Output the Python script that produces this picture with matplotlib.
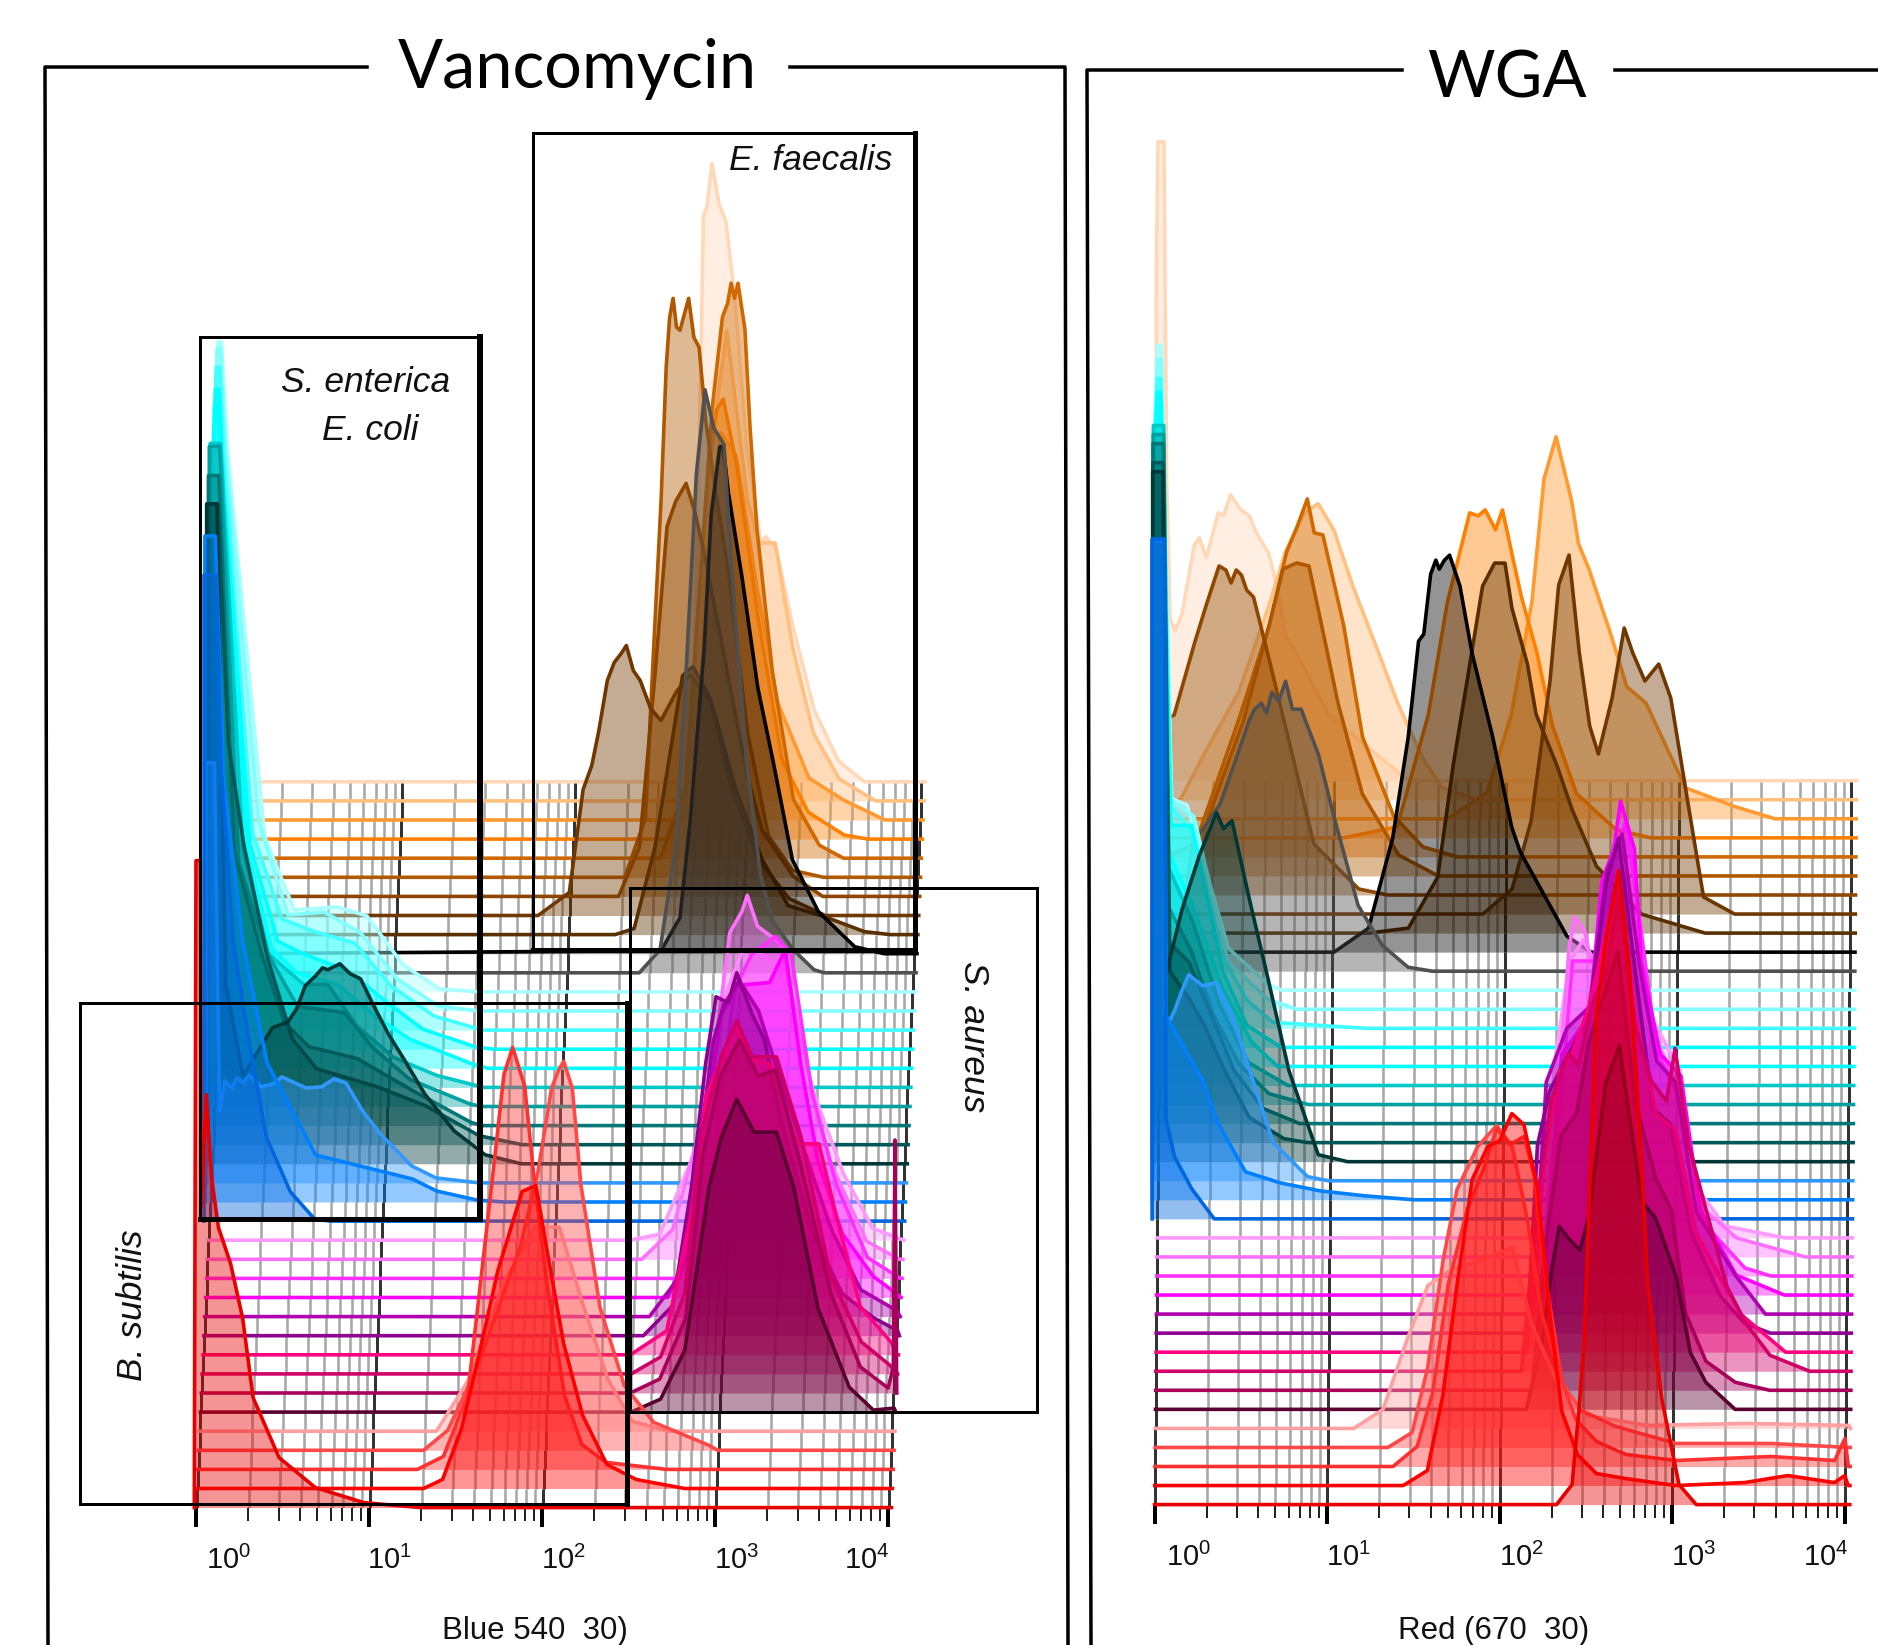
import matplotlib
matplotlib.use('Agg')
import matplotlib.pyplot as plt
from matplotlib.ticker import NullFormatter, FixedLocator
import numpy as np

plt.rcParams['font.family'] = ['Liberation Sans', 'DejaVu Sans']
plt.rcParams['mathtext.fontset'] = 'custom'
plt.rcParams['mathtext.rm'] = 'Liberation Sans'

# colour of each histogram, front (bottom) to back (top)
layer_colors = ['#e80000', '#ff0000', '#ff3030', '#ff4848', '#ffa0a0',
                '#5a0030', '#a8005a', '#d00068', '#ff0080', '#900090',
                '#b000b0', '#ff00ff', '#ff30ff', '#ff70ff', '#ff98ff',
                '#0066dd', '#0080ff', '#3098ff',
                '#003838', '#005858', '#007878', '#00a0a0', '#00c8c8',
                '#00ffff', '#00ffff', '#40ffff', '#80ffff', '#a8ffff',
                '#505050', '#000000',
                '#5a3000', '#703800', '#8f4700', '#b05800', '#d06800',
                '#ff8000', '#ff9a30', '#ffc080', '#ffd8b8']

# Vancomycin panel: (log10 intensity, height) per histogram
v00 = [(-0.01, 0), (0.0, 647), (0.025, 647), (0.03, 300), (0.06, 413), (0.09, 330), (0.13, 280), (0.2, 244), (0.27, 189), (0.33, 110), (0.48, 50), (0.69, 20), (0.97, 5), (1.3, 0)]
v01 = [(1.31, 0), (1.42, 9), (1.53, 60), (1.63, 133), (1.74, 218), (1.88, 297), (1.96, 303), (2.02, 242), (2.12, 145), (2.23, 73), (2.37, 24), (2.54, 9), (2.82, 0)]
v02 = [(1.27, 0), (1.42, 13), (1.56, 74), (1.70, 286), (1.77, 395), (1.82, 422), (1.89, 383), (1.94, 298), (2.01, 195), (2.12, 74), (2.22, 25), (2.36, 7), (2.71, 0)]
v03 = [(1.30, 0), (1.44, 20), (1.61, 83), (1.86, 204), (1.96, 277), (2.04, 362), (2.08, 380), (2.11, 389), (2.16, 362), (2.21, 265), (2.32, 143), (2.46, 65), (2.63, 28), (2.95, 5), (3.0, 0)]
v04 = [(1.37, 0), (1.55, 50), (1.76, 149), (1.94, 204), (2.08, 204), (2.22, 125), (2.36, 52), (2.50, 10), (2.71, 0)]
v05 = [(2.49, 0), (2.66, 13), (2.80, 62), (2.94, 225), (3.01, 274), (3.10, 313), (3.20, 280), (3.33, 280), (3.43, 225), (3.57, 104), (3.75, 25), (3.89, 2), (4.01, 4)]
v06 = [(2.48, 0), (2.65, 14), (2.80, 75), (2.90, 238), (3.00, 317), (3.11, 353), (3.22, 317), (3.32, 323), (3.46, 232), (3.64, 99), (3.81, 26), (3.97, 5), (4.00, 26), (4.01, 253), (4.02, 0)]
v07 = [(2.48, 0), (2.65, 17), (2.79, 81), (2.88, 238), (3.00, 317), (3.09, 353), (3.18, 317), (3.32, 317), (3.46, 238), (3.63, 99), (3.81, 32), (3.98, 8), (4.01, 0)]
v08 = [(2.47, 0), (2.68, 24), (2.82, 139), (2.91, 260), (3.00, 296), (3.08, 330), (3.17, 296), (3.28, 290), (3.42, 217), (3.45, 211), (3.56, 211), (3.66, 139), (3.80, 48), (3.98, 12), (4.01, 0)]
v09 = [(2.54, 0), (2.71, 30), (2.82, 151), (2.90, 272), (2.96, 339), (3.03, 333), (3.08, 363), (3.17, 321), (3.24, 296), (3.34, 212), (3.52, 102), (3.69, 42), (3.87, 18), (4.01, 5)]
v10 = [(2.57, 0), (2.74, 39), (2.85, 155), (2.94, 276), (3.00, 312), (3.09, 336), (3.20, 306), (3.30, 252), (3.44, 179), (3.62, 88), (3.79, 27), (4.00, 6)]
v11 = [(2.67, 0), (2.77, 39), (2.88, 161), (2.98, 282), (3.07, 312), (3.26, 315), (3.35, 348), (3.44, 233), (3.54, 136), (3.68, 64), (3.86, 21), (4.00, 3)]
v12 = [(2.73, 0), (2.91, 94), (2.98, 191), (3.05, 288), (3.15, 324), (3.29, 342), (3.38, 324), (3.50, 185), (3.64, 94), (3.82, 21), (4.01, 0)]
v13 = [(2.51, 0), (2.69, 30), (2.90, 164), (3.02, 327), (3.09, 348), (3.12, 364), (3.18, 333), (3.32, 315), (3.43, 218), (3.60, 97), (3.81, 18), (4.00, 0)]
v14 = [(2.44, 0), (2.61, 6), (2.82, 91), (2.97, 236), (3.09, 291), (3.21, 285), (3.35, 267), (3.49, 152), (3.67, 67), (3.84, 12), (4.02, 0)]
v15 = [(-0.03, 0), (-0.03, 646), (0.04, 646), (0.07, 450), (0.14, 278), (0.23, 180), (0.33, 84), (0.47, 29), (0.61, 2), (0.7, 0)]
v16 = [(-0.03, 0), (-0.03, 666), (0.03, 666), (0.08, 420), (0.19, 259), (0.33, 139), (0.61, 47), (0.89, 35), (1.17, 23), (1.31, 11), (1.54, 2), (1.7, 0)]
v17 = [(-0.03, 0), (-0.03, 420), (0.02, 420), (0.05, 72), (0.08, 102), (0.12, 95), (0.15, 105), (0.19, 100), (0.22, 108), (0.29, 96), (0.36, 99), (0.41, 106), (0.46, 102), (0.55, 95), (0.64, 96), (0.71, 104), (0.78, 100), (0.88, 71), (0.99, 47), (1.16, 17), (1.30, 5), (1.55, 0)]
v18 = [(-0.03, 0), (-0.03, 660), (0.03, 660), (0.08, 180), (0.18, 88), (0.35, 136), (0.44, 142), (0.49, 155), (0.54, 178), (0.60, 188), (0.64, 196), (0.67, 194), (0.74, 200), (0.80, 190), (0.86, 185), (0.93, 160), (1.02, 130), (1.12, 102), (1.23, 70), (1.40, 33), (1.58, 9), (1.79, 0)]
v19 = [(-0.03, 0), (-0.03, 640), (0.03, 640), (0.09, 403), (0.18, 300), (0.32, 185), (0.46, 106), (0.60, 76), (0.95, 58), (1.23, 39), (1.54, 9), (1.79, 0)]
v20 = [(-0.03, 0), (-0.03, 650), (0.03, 650), (0.12, 273), (0.28, 170), (0.41, 103), (0.55, 79), (0.83, 67), (1.14, 36), (1.49, 3), (1.56, 0)]
v21 = [(-0.03, 0), (-0.03, 660), (0.03, 660), (0.14, 245), (0.30, 155), (0.48, 100), (0.75, 94), (0.92, 58), (1.13, 27), (1.47, 3), (1.54, 0)]
v22 = [(-0.03, 0), (-0.03, 644), (0.03, 644), (0.16, 236), (0.31, 133), (0.51, 103), (0.65, 103), (0.82, 61), (1.03, 30), (1.28, 12), (1.55, 0)]
v23 = [(-0.03, 0), (-0.03, 540), (-0.01, 664), (0.01, 664), (0.04, 560), (0.18, 217), (0.32, 120), (0.46, 96), (0.70, 84), (0.91, 53), (1.12, 29), (1.47, 5), (1.57, 0)]
v24 = [(-0.03, 0), (-0.03, 540), (-0.01, 660), (0.01, 660), (0.04, 560), (0.19, 205), (0.35, 108), (0.49, 96), (0.76, 78), (0.98, 47), (1.19, 20), (1.50, 2), (1.6, 0)]
v25 = [(-0.03, 0), (-0.03, 540), (-0.01, 663), (0.01, 663), (0.04, 560), (0.20, 197), (0.37, 111), (0.55, 99), (0.79, 87), (1.00, 44), (1.25, 14), (1.53, 0)]
v26 = [(-0.03, 0), (-0.03, 540), (-0.01, 663), (0.01, 663), (0.04, 560), (0.23, 190), (0.40, 96), (0.61, 99), (0.82, 78), (1.03, 32), (1.27, 5), (1.5, 0)]
v27 = [(-0.03, 0), (-0.03, 530), (-0.01, 650), (0.01, 650), (0.04, 550), (0.26, 155), (0.43, 82), (0.68, 85), (0.85, 76), (1.06, 27), (1.27, 3), (1.5, 0)]
v28 = [(2.42, 0), (2.54, 23), (2.63, 126), (2.69, 299), (2.75, 499), (2.80, 583), (2.83, 560), (2.85, 545), (2.91, 528), (2.95, 413), (3.04, 212), (3.12, 98), (3.19, 52), (3.31, 23), (3.43, 3), (3.49, 0)]
v29 = [(2.54, 3), (2.65, 36), (2.71, 134), (2.79, 306), (2.83, 438), (2.88, 507), (2.90, 507), (2.93, 461), (3.01, 375), (3.10, 266), (3.19, 191), (3.30, 94), (3.45, 42), (3.66, 7), (3.83, 0)]
v30 = [(2.27, 0), (2.38, 6), (2.50, 87), (2.59, 184), (2.66, 259), (2.72, 268), (2.82, 236), (2.97, 144), (3.12, 75), (3.27, 29), (3.48, 18), (3.71, 3), (3.86, 0)]
v31 = [(1.82, 0), (2.0, 23), (2.08, 126), (2.13, 150), (2.17, 184), (2.22, 235), (2.26, 253), (2.30, 262), (2.33, 270), (2.37, 245), (2.41, 235), (2.47, 207), (2.53, 195), (2.62, 224), (2.70, 241), (2.82, 212), (2.94, 126), (3.09, 57), (3.27, 17), (3.48, 0)]
v32 = [(2.28, 0), (2.40, 49), (2.49, 221), (2.56, 370), (2.61, 395), (2.67, 413), (2.72, 385), (2.77, 347), (2.90, 232), (3.02, 123), (3.11, 66), (3.29, 20), (3.46, 0)]
v33 = [(2.31, 0), (2.43, 59), (2.47, 203), (2.52, 375), (2.55, 510), (2.57, 560), (2.59, 579), (2.61, 550), (2.63, 547), (2.65, 560), (2.68, 579), (2.71, 540), (2.74, 530), (2.78, 455), (2.84, 380), (2.90, 317), (3.02, 145), (3.14, 42), (3.28, 7), (3.46, 0)]
v34 = [(2.51, 0), (2.66, 70), (2.75, 300), (2.81, 449), (2.87, 541), (2.90, 555), (2.92, 575), (2.94, 560), (2.96, 575), (3.0, 529), (3.03, 430), (3.07, 328), (3.16, 185), (3.28, 59), (3.43, 13), (3.57, 0)]
v35 = [(2.54, 0), (2.65, 50), (2.77, 337), (2.83, 429), (2.87, 440), (2.95, 371), (3.07, 222), (3.21, 79), (3.36, 27), (3.57, 4), (3.71, 0)]
v36 = [(2.62, 0), (2.74, 146), (2.80, 318), (2.85, 387), (2.94, 364), (3.06, 232), (3.18, 117), (3.36, 42), (3.56, 20), (3.80, 0)]
v37 = [(2.64, 0), (2.73, 126), (2.79, 355), (2.88, 470), (3.0, 300), (3.07, 258), (3.16, 258), (3.26, 154), (3.38, 68), (3.53, 22), (3.74, 0)]
v38 = [(2.67, 0), (2.71, 279), (2.74, 566), (2.76, 575), (2.79, 618), (2.83, 578), (2.87, 560), (2.92, 485), (2.99, 336), (3.07, 239), (3.10, 245), (3.16, 233), (3.26, 153), (3.38, 72), (3.52, 21), (3.67, 0)]

# WGA panel
w00 = [(2.33, 0), (2.42, 20), (2.46, 95), (2.49, 165), (2.56, 489), (2.62, 570), (2.69, 634), (2.75, 543), (2.81, 381), (2.86, 219), (2.94, 106), (3.04, 20), (3.14, 0)]
w01 = [(1.44, 0), (1.58, 15), (1.67, 90), (1.75, 198), (1.84, 306), (1.93, 339), (2.0, 345), (2.07, 372), (2.14, 361), (2.22, 296), (2.29, 172), (2.36, 74), (2.45, 31), (2.56, 12), (2.73, 7), (3.02, 0), (3.42, 3), (3.67, 10), (3.94, 3), (4.0, 10), (4.02, 0)]
w02 = [(1.38, 0), (1.52, 20), (1.61, 74), (1.70, 182), (1.81, 257), (1.91, 300), (1.98, 338), (2.06, 322), (2.14, 330), (2.2, 290), (2.27, 182), (2.36, 85), (2.44, 47), (2.56, 25), (2.73, 12), (3.02, 6), (3.57, 10), (3.94, 6), (4.0, 28), (4.02, 0)]
w03 = [(1.35, 0), (1.49, 15), (1.58, 80), (1.67, 188), (1.75, 258), (1.87, 301), (1.98, 322), (2.07, 301), (2.16, 226), (2.24, 134), (2.36, 64), (2.47, 37), (2.67, 21), (3.02, 4), (3.57, 4), (4.02, 0)]
w04 = [(1.15, 0), (1.32, 19), (1.46, 89), (1.58, 143), (1.72, 159), (1.92, 170), (2.07, 181), (2.18, 105), (2.33, 46), (2.5, 13), (2.85, 3), (3.42, 5), (4.02, 3)]
w05 = [(2.15, 0), (2.24, 67), (2.30, 143), (2.34, 183), (2.40, 170), (2.46, 159), (2.51, 191), (2.61, 326), (2.69, 364), (2.74, 302), (2.82, 208), (2.90, 191), (3.02, 132), (3.10, 57), (3.19, 27), (3.36, 0)]
w06 = [(2.18, 0), (2.27, 158), (2.35, 255), (2.44, 277), (2.51, 347), (2.61, 401), (2.68, 439), (2.78, 288), (2.90, 212), (2.99, 180), (3.07, 78), (3.19, 29), (3.36, 8), (3.56, 0)]
w07 = [(2.12, 0), (2.21, 167), (2.29, 270), (2.39, 318), (2.45, 307), (2.53, 367), (2.61, 399), (2.68, 474), (2.78, 345), (2.87, 291), (2.96, 270), (3.01, 323), (3.09, 226), (3.20, 155), (3.31, 85), (3.42, 48), (3.56, 16), (3.79, 0)]
w08 = [(2.15, 0), (2.26, 205), (2.34, 281), (2.41, 297), (2.51, 346), (2.64, 443), (2.68, 480), (2.78, 335), (2.90, 238), (3.01, 222), (3.13, 119), (3.39, 38), (3.65, 0)]
w09 = [(2.15, 0), (2.21, 188), (2.28, 242), (2.39, 279), (2.51, 317), (2.61, 452), (2.68, 495), (2.79, 344), (2.88, 225), (2.98, 209), (3.10, 101), (3.27, 37), (3.41, 10), (3.56, 0)]
w10 = [(2.18, 0), (2.26, 232), (2.38, 286), (2.51, 307), (2.61, 442), (2.70, 480), (2.80, 350), (2.90, 253), (3.01, 232), (3.13, 102), (3.36, 38), (3.53, 0)]
w11 = [(2.23, 0), (2.35, 241), (2.51, 279), (2.58, 413), (2.65, 446), (2.69, 494), (2.77, 446), (2.81, 333), (2.92, 241), (3.04, 219), (3.15, 85), (3.36, 20), (3.64, 0)]
w12 = [(2.26, 0), (2.41, 315), (2.55, 315), (2.66, 423), (2.72, 455), (2.79, 369), (2.90, 223), (3.04, 175), (3.18, 51), (3.41, 8), (3.56, 0)]
w13 = [(2.26, 0), (2.33, 175), (2.39, 310), (2.42, 340), (2.48, 326), (2.52, 294), (2.63, 348), (2.78, 294), (2.89, 218), (3.04, 164), (3.15, 51), (3.36, 19), (3.76, 0)]
w14 = [(2.25, 0), (2.30, 168), (2.39, 276), (2.47, 298), (2.57, 265), (2.72, 276), (2.86, 222), (3.03, 168), (3.13, 50), (3.29, 12), (3.64, 0)]
w15 = [(-0.03, 0), (-0.03, 680), (0.04, 680), (0.05, 100), (0.10, 62), (0.20, 30), (0.33, 0)]
w16 = [(-0.03, 0), (-0.03, 660), (0.04, 660), (0.05, 184), (0.26, 120), (0.35, 77), (0.51, 28), (0.71, 17), (0.94, 9), (1.2, 4), (1.49, 0)]
w17 = [(-0.03, 0), (-0.03, 640), (0.035, 640), (0.04, 166), (0.07, 160), (0.10, 171), (0.14, 190), (0.18, 206), (0.26, 195), (0.34, 198), (0.43, 166), (0.53, 112), (0.67, 38), (0.87, 4), (0.99, 0)]
w18 = [(-0.03, 0), (-0.03, 690), (0.03, 690), (0.04, 182), (0.14, 252), (0.24, 306), (0.34, 349), (0.38, 333), (0.43, 341), (0.53, 263), (0.64, 182), (0.76, 91), (0.93, 7), (1.10, 0)]
w19 = [(-0.03, 0), (-0.03, 680), (0.03, 680), (0.07, 171), (0.18, 144), (0.27, 117), (0.38, 74), (0.53, 25), (0.73, 4), (0.87, 0)]
w20 = [(-0.03, 0), (-0.03, 680), (0.03, 680), (0.06, 182), (0.18, 161), (0.30, 112), (0.44, 53), (0.61, 15), (0.82, 0)]
w21 = [(-0.03, 0), (-0.03, 670), (0.03, 670), (0.06, 197), (0.19, 154), (0.32, 89), (0.47, 40), (0.64, 11), (0.87, 0)]
w22 = [(-0.03, 0), (-0.03, 660), (0.03, 660), (0.06, 217), (0.20, 163), (0.35, 82), (0.52, 23), (0.75, 0)]
w23 = [(-0.03, 0), (-0.03, 560), (-0.01, 660), (0.01, 660), (0.03, 500), (0.06, 213), (0.20, 159), (0.37, 78), (0.54, 24), (0.69, 0)]
w24 = [(-0.03, 0), (-0.03, 560), (-0.01, 655), (0.01, 655), (0.03, 500), (0.07, 222), (0.19, 222), (0.37, 76), (0.51, 22), (0.71, 0)]
w25 = [(-0.03, 0), (-0.03, 560), (-0.01, 650), (0.01, 650), (0.03, 500), (0.07, 222), (0.20, 195), (0.37, 71), (0.51, 28), (0.66, 6), (1.2, 0)]
w26 = [(-0.03, 0), (-0.03, 560), (-0.01, 650), (0.01, 650), (0.03, 500), (0.07, 209), (0.20, 193), (0.40, 47), (0.63, 10), (0.80, 0)]
w27 = [(-0.03, 0), (-0.03, 560), (-0.01, 645), (0.01, 645), (0.03, 500), (0.07, 192), (0.16, 185), (0.40, 42), (0.63, 6), (0.71, 0)]
w28 = [(0.09, 0), (0.19, 127), (0.35, 167), (0.43, 206), (0.52, 251), (0.55, 262), (0.59, 268), (0.62, 258), (0.65, 279), (0.69, 270), (0.73, 290), (0.77, 262), (0.82, 262), (0.92, 217), (1.01, 155), (1.15, 66), (1.29, 26), (1.44, 4), (1.58, 0)]
w29 = [(1.01, 0), (1.21, 24), (1.35, 114), (1.44, 215), (1.50, 311), (1.53, 318), (1.57, 378), (1.60, 392), (1.62, 383), (1.65, 392), (1.68, 397), (1.74, 366), (1.81, 299), (1.93, 215), (2.04, 125), (2.09, 100), (2.19, 69), (2.36, 16), (2.50, 0)]
w30 = [(1.21, 0), (1.44, 5), (1.61, 56), (1.70, 168), (1.78, 252), (1.87, 347), (1.94, 370), (2.0, 370), (2.04, 325), (2.13, 269), (2.18, 219), (2.30, 168), (2.39, 123), (2.53, 67), (2.79, 19), (3.16, 0)]
w31 = [(1.87, 0), (2.04, 25), (2.15, 93), (2.26, 233), (2.31, 329), (2.37, 359), (2.43, 261), (2.49, 188), (2.54, 160), (2.62, 216), (2.69, 286), (2.74, 261), (2.81, 233), (2.89, 250), (2.96, 216), (3.05, 121), (3.15, 17), (3.33, 0)]
w32 = [(-0.03, 0), (0.02, 175), (0.08, 180), (0.20, 253), (0.27, 292), (0.34, 329), (0.38, 325), (0.41, 312), (0.44, 325), (0.47, 320), (0.50, 305), (0.54, 298), (0.63, 236), (0.74, 158), (0.89, 51), (1.15, 6), (1.32, 0)]
w33 = [(0.20, 0), (0.28, 60), (0.48, 155), (0.63, 251), (0.71, 307), (0.79, 313), (0.86, 310), (0.92, 262), (1.03, 172), (1.17, 82), (1.38, 21), (1.61, 0)]
w34 = [(0.20, 13), (0.45, 136), (0.63, 232), (0.73, 305), (0.79, 330), (0.85, 358), (0.89, 324), (0.94, 322), (1.06, 232), (1.17, 120), (1.35, 41), (1.52, 10), (1.72, 0)]
w35 = [(1.06, 0), (1.37, 11), (1.55, 123), (1.66, 235), (1.79, 325), (1.84, 322), (1.88, 328), (1.94, 308), (1.98, 328), (2.04, 280), (2.09, 241), (2.18, 185), (2.27, 112), (2.41, 44), (2.64, 8), (2.84, 0)]
w36 = [(1.66, 0), (1.89, 26), (2.03, 104), (2.15, 217), (2.22, 340), (2.29, 382), (2.38, 318), (2.42, 275), (2.48, 250), (2.61, 183), (2.70, 132), (2.81, 116), (3.04, 31), (3.33, 12), (3.56, 0)]
w37 = [(0.11, 0), (0.25, 46), (0.45, 108), (0.62, 192), (0.72, 248), (0.83, 287), (0.91, 296), (1.0, 270), (1.11, 214), (1.26, 147), (1.37, 97), (1.52, 40), (1.63, 12), (1.83, 0)]
w38 = [(-0.03, 0), (-0.03, 500), (-0.02, 639), (0.015, 639), (0.03, 300), (0.05, 162), (0.08, 150), (0.12, 167), (0.19, 235), (0.22, 243), (0.26, 223), (0.33, 268), (0.36, 265), (0.40, 286), (0.46, 271), (0.51, 265), (0.55, 248), (0.62, 228), (0.67, 195), (0.72, 145), (0.80, 122), (0.97, 66), (1.20, 33), (1.43, 0)]

vanco_layers = [v00, v01, v02, v03, v04, v05, v06, v07, v08, v09, v10, v11, v12,
                v13, v14, v15, v16, v17, v18, v19, v20, v21, v22, v23, v24, v25,
                v26, v27, v28, v29, v30, v31, v32, v33, v34, v35, v36, v37, v38]
wga_layers = [w00, w01, w02, w03, w04, w05, w06, w07, w08, w09, w10, w11, w12,
              w13, w14, w15, w16, w17, w18, w19, w20, w21, w22, w23, w24, w25,
              w26, w27, w28, w29, w30, w31, w32, w33, w34, w35, w36, w37, w38]

decades = [0, 1, 2, 3, 4]
tick_text = ['$\\mathregular{10^{%d}}$' % d for d in decades]
vanco_label_shift = [33, 20, 21, 22, -21]
wga_label_shift = [34, 21, 22, 21, -19]

W, H = 1878, 1645
PX = 0.72  # one pixel in points at dpi 100
fig = plt.figure(figsize=(W / 100, H / 100), dpi=100, facecolor='white')


def panel(layers, px0, decade_px, base_px, step, skew, xmax, label_shift, xlabel, xlabel_px, first_dec):
    left = px0 - 0.1 * decade_px
    width = 4.6 * decade_px
    ax = fig.add_axes([left / W, (H - base_px) / H, width / W, base_px / H])
    ax.patch.set_alpha(0)
    ax.set_xscale('log')
    ax.set_xlim(10 ** -0.1, 10 ** 4.5)
    ax.set_ylim(0, base_px)
    for s in ax.spines.values():
        s.set_visible(False)
    ax.yaxis.set_visible(False)

    minors = [m * 10.0 ** d for d in decades[:-1] for m in range(2, 10)]
    majors = [10.0 ** d for d in decades]
    ax.xaxis.set_major_locator(FixedLocator(majors))
    ax.xaxis.set_minor_locator(FixedLocator(minors))
    ax.xaxis.set_major_formatter(NullFormatter())
    ax.xaxis.set_minor_formatter(NullFormatter())
    ax.tick_params(axis='x', which='major', length=19 * PX, width=4 * PX, color='black')
    ax.tick_params(axis='x', which='minor', length=13 * PX, width=2 * PX, color='#222222')

    for i in range(len(layers) - 1, -1, -1):
        shift = i * skew
        y0 = i * step
        col = layer_colors[i]
        # grid piece hanging under this layer's baseline
        if i > 0:
            ax.vlines([m * 10 ** shift for m in minors], y0 - step, y0, color='#a8a8a8', lw=2.6 * PX, zorder=i * -3 + 200)
            ax.vlines([m * 10 ** shift for m in majors], y0 - step, y0, color='#333333', lw=3 * PX, zorder=i * -3 + 200)

        pts = list(layers[i])
        if pts[0][0] > first_dec[i >= 28]:
            pts.insert(0, (first_dec[i >= 28], 0))
        if pts[-1][0] < xmax:
            pts.append((xmax, 0))
        dec = np.array([p[0] for p in pts]) + shift
        hgt = np.array([p[1] for p in pts]) + y0
        xv = 10 ** dec
        ax.fill_between(xv, y0, hgt, color=col, alpha=0.42, lw=0, zorder=i * -3 + 200)
        ax.plot(xv, hgt, color=col, lw=3.6 * PX, solid_joinstyle='round', clip_on=False, zorder=i * -3 + 201)

    for d, txt, off in zip(decades, tick_text, label_shift):
        ax.annotate(txt, xy=(10.0 ** d, 0), xytext=(off * PX, -53 * PX), textcoords='offset points',
                    ha='center', va='center', fontsize=21, color='#111111', annotation_clip=False)
    fig.text(xlabel_px / W, 1 - 1631 / H, xlabel, ha='center', va='center', fontsize=22.5, color='#111111')
    return ax


panel(vanco_layers, 196, 173, 1507.6, 19.1, 0.88 / 173, 4.02, vanco_label_shift,
      'Blue 540  30)', 535, {False: 0.0, True: 0.08})
panel(wga_layers, 1154.6, 172.5, 1504.6, 19.05, 0.18 / 172.5, 4.03, wga_label_shift,
      'Red (670  30)', 1494, {False: 0.0, True: 0.03})

# boxes, frames and titles sit on one overlay in pixel units
over = fig.add_axes([0, 0, 1, 1], zorder=10)
over.patch.set_alpha(0)
over.set_xlim(0, W)
over.set_ylim(H, 0)
over.axis('off')


def seg(x, y, lw=3.0):
    over.plot(x, y, color='black', lw=lw * PX, solid_capstyle='projecting')


def box(x0, y0, x1, y1, lw=3.0, right=4.5, bottom=3.0):
    seg([x0, x1], [y0, y0], lw)
    seg([x0, x0], [y0, y1], lw)
    seg([x1, x1], [y0, y1], right)
    seg([x0, x1], [y1, y1], bottom)


# outer frames
seg([367, 45, 48], [67, 67, H], 3.5)
seg([790, 1065, 1068], [67, 67, H], 3.5)
seg([1402, 1087, 1091], [70, 70, H], 3.5)
seg([1615, W], [70, 70], 3.5)
over.text(577, 69, 'Vancomycin', family='Lato', fontsize=48, ha='center', va='center', color='black')
over.text(1508, 79, 'WGA', family='Lato', fontsize=47, ha='center', va='center', color='black')

# species boxes
box(533, 133, 915, 950, 3.0, 5.0, 5.0)
box(200, 337, 480, 1219, 3.0, 6.0, 5.0)
box(80, 1003, 627, 1504, 3.0, 5.0, 3.0)
box(630, 888, 1037, 1412, 3.0, 3.0, 3.0)

italic = dict(style='italic', fontsize=25.5, color='#111111', va='center', ha='center')
over.text(811, 160, 'E. faecalis', **italic)
over.text(366, 382, 'S. enterica', **italic)
over.text(370, 431, 'E. coli', **italic)
over.text(133, 1305, 'B. subtilis', rotation=90, **italic)
over.text(974, 1037, 'S. aureus', rotation=270, **italic)

fig.savefig('out.png', dpi=100)
